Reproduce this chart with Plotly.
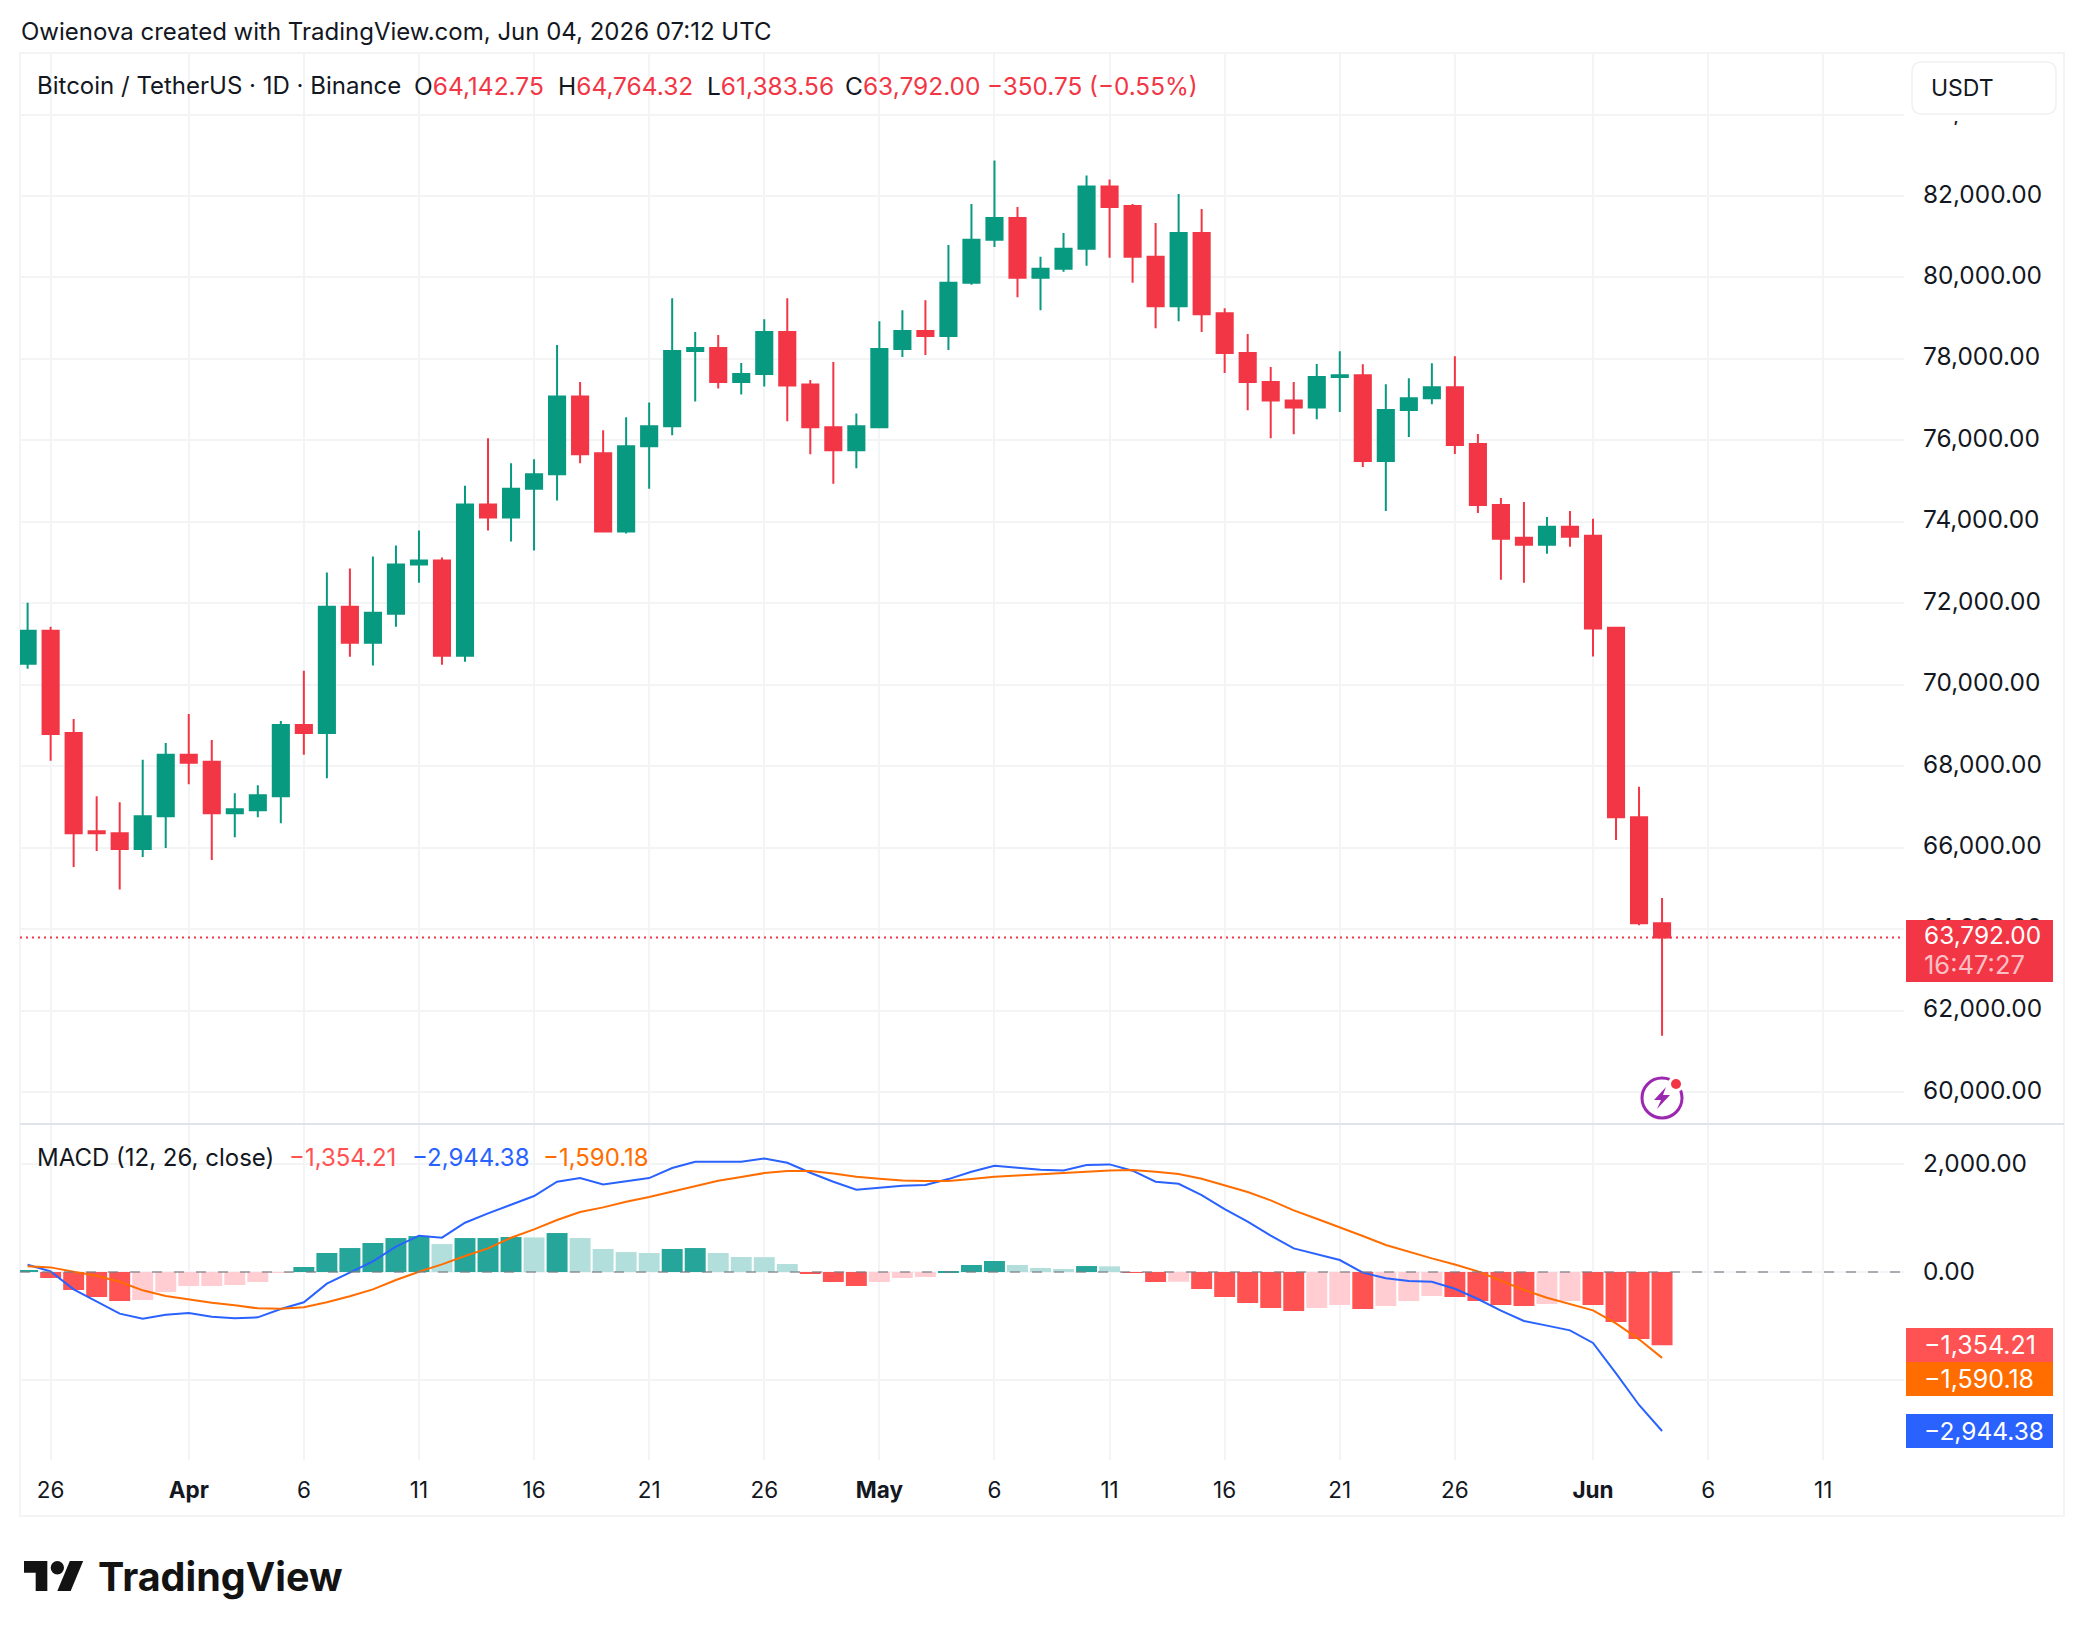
import pandas as pd
import plotly.graph_objects as go

W, H = 2084, 1636

dates = pd.date_range("2026-03-25", "2026-06-04", freq="D")

opens = [70519, 71327, 68817, 66406, 66357, 65965, 66773,
         68279, 68107, 66847, 66920, 67263, 69013, 68817, 71914, 71033, 71743,
         72955, 73052, 70715, 74423, 74105, 74815, 75170, 77079, 75684, 73762,
         75855, 76345, 78193, 78267, 77434, 77630, 78658, 77373, 76321, 75757,
         76321, 78242, 78683, 78560, 79870, 80923, 81461, 79993, 80213, 80702,
         82232, 81755, 80507, 79295, 81094, 79123, 78144, 77434, 76981, 76810,
         77557, 77600, 75494, 76743, 77037, 77306, 75910, 74416, 73608, 73437,
         73878, 73657, 71400, 66750, 64142.75]
highs = [72012, 71425, 69160, 67263, 67116, 68156, 68573,
         69283, 68646, 67336, 67532, 69111, 70347, 72759, 72857, 73150, 73420,
         73787, 73126, 74888, 76051, 75439, 75537, 78340, 77434, 76247, 76565,
         76933, 79491, 78658, 78585, 77899, 78977, 79491, 77483, 77924, 76663,
         78928, 79197, 79442, 80800, 81804, 82869, 81731, 80507, 81094, 82502,
         82404, 81804, 81339, 82049, 81682, 79246, 78609, 77802, 77434, 77875,
         78188, 77869, 77380, 77527, 77894, 78065, 76155, 74588, 74490, 74122,
         74269, 74073, 71400, 67494, 64764.32]
lows = [70396, 68132, 65525, 65917, 64974, 65770, 65990,
        67557, 65696, 66259, 66749, 66602, 68279, 67704, 70690, 70470, 71425,
        72502, 70494, 70568, 73787, 73518, 73297, 74521, 75439, 73762, 73713,
        74815, 76125, 76957, 77275, 77128, 77324, 76467, 75660, 74937, 75317,
        76300, 78046, 78095, 78218, 79821, 80751, 79515, 79197, 80139, 80286,
        80482, 79870, 78756, 78928, 78658, 77655, 76737, 76051, 76149, 76516,
        76694, 75347, 74269, 76082, 76890, 75665, 74220, 72580, 72506, 73216,
        73388, 70694, 66187, 64093, 61383.56]
closes = [71327, 68793, 66357, 66357, 65965, 66773, 68279,
          68083, 66847, 66945, 67287, 69013, 68817, 71914, 71033, 71767, 72955,
          73052, 70715, 74423, 74105, 74815, 75170, 77079, 75660, 73762, 75855,
          76345, 78193, 78267, 77434, 77630, 78658, 77349, 76321, 75757, 76345,
          78242, 78683, 78560, 79870, 80923, 81461, 79993, 80213, 80702, 82232,
          81731, 80507, 79295, 81094, 79099, 78144, 77434, 76981, 76810, 77557,
          77600, 75494, 76743, 77037, 77306, 75886, 74416, 73584, 73437, 73878,
          73633, 71380, 66750, 64143, 63792.00]

macd_hist = [37, -111, -333, -463, -537, -518, -370,
             -259, -259, -241, -185, -18, 93, 352, 444, 537, 629,
             666, 518, 629, 629, 648, 640, 722, 629, 426, 370,
             352, 426, 444, 352, 278, 275, 148, -37, -185, -259,
             -185, -111, -93, 18, 130, 204, 130, 74, 56, 111,
             105, -18, -185, -180, -315, -463, -574, -666, -722, -666,
             -611, -685, -629, -537, -444, -463, -537, -611, -629, -592,
             -537, -611, -925, -1240, -1354.21]
macd_line = [136, 12, -321, -549, -771, -864, -790,
             -759, -827, -858, -839, -685, -561, -216, -12, 197, 469,
             673, 636, 913, 1086, 1240, 1407, 1672, 1740, 1623, 1678,
             1740, 1925, 2042, 2042, 2042, 2104, 2024, 1839, 1672, 1524,
             1555, 1598, 1610, 1721, 1857, 1968, 1931, 1894, 1882, 1981,
             1993, 1876, 1672, 1635, 1425, 1166, 932, 673, 438, 327,
             222, -12, -117, -167, -179, -310, -500, -716, -907, -993,
             -1080, -1314, -1876, -2462, -2944.38]
signal_line = [105, 86, 6, -68, -179, -339, -444,
               -512, -568, -617, -673, -679, -654, -561, -450, -321, -148,
               6, 142, 296, 438, 635, 790, 963, 1111, 1197, 1302,
               1388, 1493, 1598, 1691, 1758, 1832, 1870, 1870, 1826, 1765,
               1728, 1697, 1684, 1684, 1721, 1765, 1789, 1808, 1826, 1857,
               1882, 1888, 1857, 1814, 1728, 1610, 1481, 1327, 1141, 987,
               833, 666, 500, 370, 253, 140, 12, -160, -333, -475,
               -586, -710, -950, -1246, -1590.18]

price_ticks = list(range(60000, 86000, 2000))
macd_ticks = [-2000, 0, 2000]
time_tick_dates = ["2026-03-26", "2026-04-01", "2026-04-06", "2026-04-11", "2026-04-16",
                   "2026-04-21", "2026-04-26", "2026-05-01", "2026-05-06", "2026-05-11",
                   "2026-05-16", "2026-05-21", "2026-05-26", "2026-06-01", "2026-06-06",
                   "2026-06-11"]
time_tick_text = ["26", "<b>Apr</b>", "6", "11", "16", "21", "26", "<b>May</b>", "6", "11",
                  "16", "21", "26", "<b>Jun</b>", "6", "11"]

UP = "#089981"
DOWN = "#f23645"
TEXT = "#131722"
GRID = "#f3f4f5"
BLUE = "#2962ff"
ORANGE = "#ff6d00"
HIST_RED = "#ff5252"
FONT = "Inter"


def px(x):
    return x / W


def py(y):
    return 1 - y / H


def hist_colour(i):
    v, prev = macd_hist[i], macd_hist[i - 1] if i else 0
    if v >= 0:
        return "#26a69a" if v >= prev else "#b2dfdb"
    return HIST_RED if v < prev else "#ffcdd2"


def path(commands):
    """Turn [(cmd, x, y), ...] given in page pixels into a paper-referenced SVG path."""
    out = []
    for c in commands:
        out.append(c[0] if len(c) == 1 else f"{c[0]}{px(c[1]):.5f},{py(c[2]):.5f}")
    return " ".join(out)


def logo_poly(points, ox=24, oy=1554.4, k=1.667):
    cmds = [("M" if i == 0 else "L", ox + a * k, oy + b * k) for i, (a, b) in enumerate(points)]
    return path(cmds + [("Z",)])


fig = go.Figure()
fig.add_trace(go.Candlestick(
    x=dates, open=opens, high=highs, low=lows, close=closes, xaxis="x", yaxis="y",
    increasing=dict(line=dict(color=UP, width=2), fillcolor=UP),
    decreasing=dict(line=dict(color=DOWN, width=2), fillcolor=DOWN),
    whiskerwidth=0, showlegend=False, hoverinfo="skip",
))
fig.add_trace(go.Bar(
    x=dates, y=macd_hist, xaxis="x2", yaxis="y2", showlegend=False, hoverinfo="skip",
    marker=dict(color=[hist_colour(i) for i in range(len(macd_hist))], line=dict(width=0)),
))
fig.add_trace(go.Scatter(x=dates, y=macd_line, mode="lines", xaxis="x2", yaxis="y2",
                         line=dict(color=BLUE, width=2), showlegend=False, hoverinfo="skip"))
fig.add_trace(go.Scatter(x=dates, y=signal_line, mode="lines", xaxis="x2", yaxis="y2",
                         line=dict(color=ORANGE, width=2), showlegend=False, hoverinfo="skip"))

x_range = ["2026-03-24 16:04", "2026-06-14 12:14"]
x_common = dict(type="date", range=x_range, domain=[px(20), px(1904)], showgrid=True,
                gridcolor=GRID, gridwidth=2, zeroline=False, showline=False, ticks="",
                tickmode="array", tickvals=time_tick_dates, ticktext=time_tick_text)
y_common = dict(showgrid=True, gridcolor=GRID, gridwidth=2, zeroline=False, showline=False,
                ticks="", side="right", tickmode="array", tickformat=",.2f",
                tickfont=dict(family=FONT, size=24.4, color=TEXT), ticklabelstandoff=18)

fig.update_layout(
    width=W, height=H, autosize=False, margin=dict(l=0, r=0, t=0, b=0),
    paper_bgcolor="white", plot_bgcolor="white", boxgap=0.3, boxgroupgap=0, bargap=0.09,
    hovermode=False, dragmode=False,
    font=dict(family=FONT, color=TEXT),
    xaxis=dict(**x_common, anchor="y", showticklabels=False, rangeslider=dict(visible=False)),
    xaxis2=dict(**x_common, anchor="y2", matches="x", showticklabels=True,
                tickfont=dict(family=FONT, size=22.5, color=TEXT), ticklabelstandoff=14),
    yaxis=dict(**y_common, anchor="x", domain=[py(1124), py(53)], range=[59216, 85511],
               tickvals=price_ticks, ticklabelshift=-2),
    yaxis2=dict(**y_common, anchor="x2", domain=[py(1460), py(1124)], range=[-3481, 2741],
                tickvals=macd_ticks, ticklabelshift=-1),
)

shapes = [
    # outer frame of the chart and the divider between the panes
    dict(type="rect", xref="paper", yref="paper", x0=px(20), x1=px(2064), y0=py(1516), y1=py(53),
         line=dict(color=GRID, width=2), layer="below"),
    dict(type="line", xref="paper", yref="paper", x0=px(20), x1=px(2064), y0=py(1124), y1=py(1124),
         line=dict(color="#e0e3eb", width=2), layer="above"),
    # last-price marker
    dict(type="line", xref="paper", yref="y", x0=px(20), x1=px(1904), y0=closes[-1], y1=closes[-1],
         line=dict(color=DOWN, width=2, dash="2px,4px"), layer="above"),
    # histogram zero level
    dict(type="line", xref="paper", yref="y2", x0=px(20), x1=px(1904), y0=0, y1=0,
         line=dict(color="rgba(120,123,134,0.6)", width=2, dash="10px,12px"), layer="above"),
    # white patch behind the currency button, then the button itself
    dict(type="rect", xref="paper", yref="paper", x0=px(1906), x1=px(2062), y0=py(121), y1=py(55),
         fillcolor="white", line=dict(width=0), layer="above"),
    dict(type="path", xref="paper", yref="paper", layer="above", fillcolor="white",
         line=dict(color="#f0f1f3", width=1.5),
         path=f"M{px(1922)},{py(62)} L{px(2046)},{py(62)} Q{px(2056)},{py(62)} {px(2056)},{py(72)} "
              f"L{px(2056)},{py(104)} Q{px(2056)},{py(114)} {px(2046)},{py(114)} "
              f"L{px(1922)},{py(114)} Q{px(1912)},{py(114)} {px(1912)},{py(104)} "
              f"L{px(1912)},{py(72)} Q{px(1912)},{py(62)} {px(1922)},{py(62)} Z"),
]

# axis value tags on the right-hand side
for top, bottom, colour in [(920, 982, DOWN), (1328, 1362, HIST_RED),
                            (1362, 1396, ORANGE), (1414, 1448, BLUE)]:
    shapes.append(dict(type="rect", xref="paper", yref="paper", x0=px(1906), x1=px(2053),
                       y0=py(bottom), y1=py(top), fillcolor=colour, line=dict(width=0), layer="above"))

# event badge under the last candle
cx, cy = 1662, 1098
shapes.append(dict(type="circle", xref="paper", yref="paper", x0=px(cx - 20), x1=px(cx + 20),
                   y0=py(cy + 20), y1=py(cy - 20), line=dict(color="#9c27b0", width=3),
                   fillcolor="white", layer="above"))
shapes.append(dict(type="path", xref="paper", yref="paper", fillcolor="#9c27b0", line=dict(width=0),
                   layer="above",
                   path=path([("M", cx + 4, cy - 11), ("L", cx - 8, cy + 2), ("L", cx - 1, cy + 2),
                              ("L", cx - 5, cy + 11), ("L", cx + 8, cy - 3), ("L", cx + 1, cy - 3),
                              ("Z",)])))
shapes.append(dict(type="circle", xref="paper", yref="paper", x0=px(1668), x1=px(1684),
                   y0=py(1092), y1=py(1076), fillcolor="white", line=dict(width=0), layer="above"))
shapes.append(dict(type="circle", xref="paper", yref="paper", x0=px(1671), x1=px(1681),
                   y0=py(1089), y1=py(1079), fillcolor=DOWN, line=dict(width=0), layer="above"))

# brand mark
shapes.append(dict(type="path", xref="paper", yref="paper", fillcolor="#131313", line=dict(width=0),
                   layer="above",
                   path=logo_poly([(0, 4), (14, 4), (14, 22), (7, 22), (7, 11), (0, 11)])))
shapes.append(dict(type="path", xref="paper", yref="paper", fillcolor="#131313", line=dict(width=0),
                   layer="above",
                   path=logo_poly([(27.5, 4), (35.5, 4), (28, 22), (20, 22)])))
shapes.append(dict(type="circle", xref="paper", yref="paper", fillcolor="#131313", line=dict(width=0),
                   layer="above", x0=px(24 + 16 * 1.667), x1=px(24 + 24 * 1.667),
                   y0=py(1554.4 + 12 * 1.667), y1=py(1554.4 + 4 * 1.667)))
fig.update_layout(shapes=shapes)


def label(x, y, text, size=24, color=TEXT, anchor="left"):
    fig.add_annotation(xref="paper", yref="paper", x=px(x), y=py(y), text=text, showarrow=False,
                       xanchor=anchor, yanchor="middle", align="left", borderpad=0,
                       font=dict(family=FONT, size=size, color=color))


def ohlc(letter, value):
    return f'{letter}<span style="color:{DOWN}">{value}</span>'


label(20, 32, "Owienova created with TradingView.com, Jun 04, 2026 07:12 UTC")
label(36, 86, "Bitcoin / TetherUS · 1D · Binance")
label(413, 86, ohlc("O", "64,142.75"), size=24.5)
label(557, 86, ohlc("H", "64,764.32"), size=24.5)
label(706, 86, ohlc("L", "61,383.56"), size=24.5)
label(844, 86, ohlc("C", "63,792.00"), size=24.5)
label(986, 86, "−350.75 (−0.55%)", size=24.3, color=DOWN)
label(1930, 88, "USDT", size=23)

label(36, 1157, "MACD (12, 26, close)")
label(288, 1157, "−1,354.21", color=HIST_RED)
label(411, 1157, "−2,944.38", color=BLUE)
label(542, 1157, "−1,590.18", color=ORANGE)

label(1923, 935, "63,792.00", size=24.4, color="white")
label(1923, 965, "16:47:27", size=25.5, color="rgba(255,255,255,0.7)")
label(1923, 1345, "−1,354.21", size=25, color="white")
label(1923, 1379, "−1,590.18", size=25, color="white")
label(1923, 1431, "−2,944.38", size=24.5, color="white")

label(97, 1577, "<b>TradingView</b>", size=39.5, color="#131313")

fig.write_html("out.html")
